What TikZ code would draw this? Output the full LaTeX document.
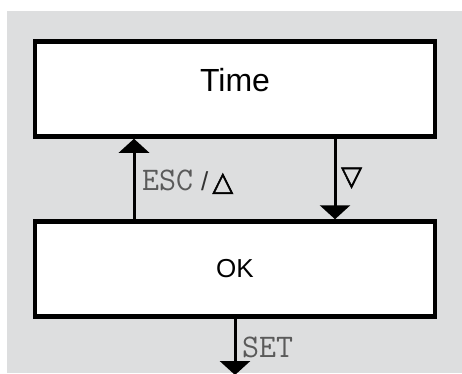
\documentclass[tikz,border=0pt]{standalone}
\usepackage{fontspec}
\setmainfont{Liberation Sans}
\newfontfamily\glyphfont[FakeBold=2]{DejaVu Sans}
\usetikzlibrary{arrows.meta}

\definecolor{panelgray}{HTML}{DDDEDF}
\definecolor{keygray}{HTML}{5A5A5A}

\begin{document}
\begin{tikzpicture}[x=1pt,y=-1pt,
  panel/.style={draw=black, line width=4.5pt, fill=white,
    minimum width=400pt, minimum height=95pt, inner sep=0pt},
  flow/.style={line width=3pt, -{Triangle[width=30pt,length=14pt]}},
  keylabel/.style={font=\ttfamily\fontsize{33}{33}\selectfont, text=keygray, inner sep=0pt},
  glyph/.style={font=\glyphfont\fontsize{27}{27}\selectfont, inner sep=0pt}]

  % page and grey panel
  \useasboundingbox (0,0) rectangle (462,373);
  \fill[white] (0,0) rectangle (462,373);
  \fill[panelgray] (7,11) rectangle (462,373);

  % the two screens
  \node[panel, label={[font=\fontsize{32}{32}\selectfont, yshift=9pt]center:Time}] (time) at (235,89) {};
  \node[panel, font=\fontsize{26}{26}\selectfont] (ok) at (235,269) {OK};

  % transitions
  \draw[flow] ([xshift=-101pt]ok.north) -- ([xshift=-101pt]time.south);
  \draw[flow] ([xshift=100pt]time.south) -- ([xshift=100pt]ok.north);
  \coordinate (exit) at (235,375);
  \draw[flow] (ok.south) -- (exit);

  % key labels
  \node[keylabel, anchor=west] (esc) at (142,182) {ESC\hspace{8pt}{\rmfamily\fontsize{26}{26}\selectfont\color{black!80}/}\hspace{4pt}{\glyphfont\fontsize{27}{27}\selectfont\color{black}△}};
  \node[glyph, anchor=west] (down) at (341,178) {▽};
  \node[keylabel, anchor=west] (set) at (242,347) {SET};
\end{tikzpicture}
\end{document}
